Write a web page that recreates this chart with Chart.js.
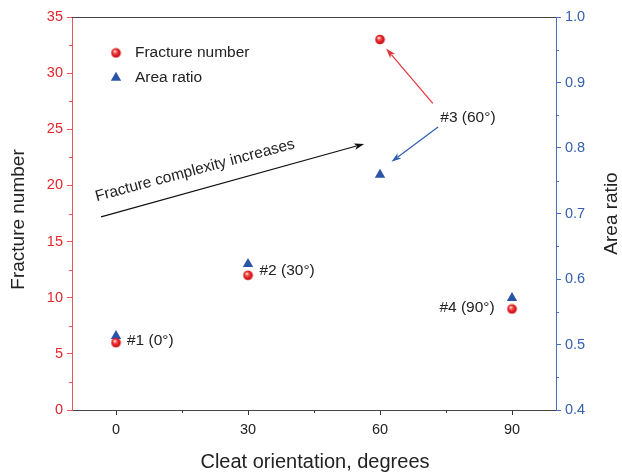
<!DOCTYPE html>
<html>
<head>
<meta charset="utf-8">
<script src="https://cdn.jsdelivr.net/npm/chart.js@4"></script>
<style>
  html, body { margin: 0; padding: 0; background: #fff; }
  #wrap { width: 622px; height: 475px; }
</style>
</head>
<body>
<div id="wrap"><canvas id="chart" width="622" height="475"></canvas></div>
<script>
const cleat = [0, 30, 60, 90];
const fractureNumber = [6, 12, 33, 9];
const areaRatio = [0.513, 0.623, 0.759, 0.571];
const sampleLabels = ["#1 (0°)", "#2 (30°)", "#3 (60°)", "#4 (90°)"];
const xTicks = [0, 30, 60, 90];

const FONT = "'Liberation Sans', Arial, sans-serif";
const RED = "#e4262b";
const RED_AXIS = "#e85555";
const BLUE = "#2a55a6";
const BLUE_AXIS = "#4a6fb8";

// shaded red ball used as point style
function makeBall() {
  const c = document.createElement("canvas");
  c.width = 11; c.height = 11;
  const g = c.getContext("2d");
  const grad = g.createRadialGradient(4.2, 3.8, 0.3, 5.5, 5.5, 5.5);
  grad.addColorStop(0, "#ffffff");
  grad.addColorStop(0.25, "#f26060");
  grad.addColorStop(0.6, "#e2191e");
  grad.addColorStop(1, "#b50e12");
  g.fillStyle = grad;
  g.beginPath();
  g.arc(5.5, 5.5, 4.8, 0, Math.PI * 2);
  g.fill();
  return c;
}
const ball = makeBall();

function arrow(ctx, x1, y1, x2, y2, color) {
  const a = Math.atan2(y2 - y1, x2 - x1);
  const len = 10, w = 3.2;
  ctx.save();
  ctx.strokeStyle = color;
  ctx.fillStyle = color;
  ctx.lineWidth = 1.2;
  ctx.beginPath();
  ctx.moveTo(x1, y1);
  ctx.lineTo(x2 - Math.cos(a) * len * 0.8, y2 - Math.sin(a) * len * 0.8);
  ctx.stroke();
  ctx.translate(x2, y2);
  ctx.rotate(a);
  ctx.beginPath();
  ctx.moveTo(0, 0);
  ctx.lineTo(-len, -w);
  ctx.lineTo(-len * 0.75, 0);
  ctx.lineTo(-len, w);
  ctx.closePath();
  ctx.fill();
  ctx.restore();
}

const decor = {
  id: "decor",
  afterDraw(chart) {
    const { ctx, chartArea: area, scales } = chart;
    const x = scales.x, y = scales.y, y1 = scales.y1;

    // top frame line
    ctx.save();
    ctx.strokeStyle = "#444";
    ctx.lineWidth = 1;
    ctx.beginPath();
    ctx.moveTo(area.left, area.top + 0.5);
    ctx.lineTo(area.right, area.top + 0.5);
    ctx.stroke();

    // minor ticks
    ctx.strokeStyle = "#333";
    [15, 45, 75].forEach(v => {
      const px = Math.round(x.getPixelForValue(v)) + 0.5;
      ctx.beginPath(); ctx.moveTo(px, area.bottom); ctx.lineTo(px, area.bottom + 3); ctx.stroke();
    });
    ctx.strokeStyle = RED_AXIS;
    for (let v = 2.5; v < 35; v += 5) {
      const py = Math.round(y.getPixelForValue(v)) + 0.5;
      ctx.beginPath(); ctx.moveTo(area.left, py); ctx.lineTo(area.left - 3, py); ctx.stroke();
    }
    ctx.strokeStyle = BLUE_AXIS;
    for (let v = 0.45; v < 1.0; v += 0.1) {
      const py = Math.round(y1.getPixelForValue(v)) + 0.5;
      ctx.beginPath(); ctx.moveTo(area.right, py); ctx.lineTo(area.right + 3, py); ctx.stroke();
    }

    // legend
    const P = Chart.helpers.drawPoint;
    P(ctx, { pointStyle: ball, radius: 5 }, x.getPixelForValue(0), y.getPixelForValue(31.8));
    ctx.fillStyle = BLUE;
    P(ctx, { pointStyle: "triangle", radius: 6, rotation: 0, borderWidth: 0 },
      x.getPixelForValue(0), y.getPixelForValue(29.6));
    ctx.fillStyle = "#222";
    ctx.font = "15.5px " + FONT;
    ctx.textBaseline = "middle";
    ctx.textAlign = "left";
    ctx.fillText("Fracture number", x.getPixelForValue(4.3), y.getPixelForValue(31.8));
    ctx.fillText("Area ratio", x.getPixelForValue(4.3), y.getPixelForValue(29.6));

    // point labels
    ctx.fillText(sampleLabels[0], x.getPixelForValue(2.5), y.getPixelForValue(6.2));
    ctx.fillText(sampleLabels[1], x.getPixelForValue(32.6), y.getPixelForValue(12.4));
    ctx.fillText(sampleLabels[2], x.getPixelForValue(73.7), y.getPixelForValue(26.0));
    ctx.fillText(sampleLabels[3], x.getPixelForValue(73.5), y.getPixelForValue(9.1));

    // arrows
    const ax1 = x.getPixelForValue(-3.4), ay1 = y.getPixelForValue(17.2);
    const ax2 = x.getPixelForValue(56.4), ay2 = y.getPixelForValue(23.7);
    arrow(ctx, ax1, ay1, ax2, ay2, "#111");
    arrow(ctx, x.getPixelForValue(72), y.getPixelForValue(27.3),
      x.getPixelForValue(61.4), y.getPixelForValue(32.2), "#e8333a");
    arrow(ctx, x.getPixelForValue(73.2), y.getPixelForValue(25.2),
      x.getPixelForValue(62.6), y.getPixelForValue(22.1), "#2f5db0");

    // rotated arrow caption
    const ang = Math.atan2(ay2 - ay1, ax2 - ax1) + 0.01;
    ctx.save();
    ctx.translate(x.getPixelForValue(-4.4), y.getPixelForValue(18.6));
    ctx.rotate(ang);
    ctx.textBaseline = "alphabetic";
    ctx.font = "15.5px " + FONT;
    ctx.fillText("Fracture complexity increases", 0, 0);
    ctx.restore();

    // axis titles
    ctx.fillStyle = "#222";
    ctx.font = "20px " + FONT;
    ctx.textAlign = "center";
    ctx.textBaseline = "middle";
    ctx.fillText("Cleat orientation, degrees", (area.left + area.right) / 2 + 1, 462);
    const midY = (area.top + area.bottom) / 2;
    ctx.font = "19px " + FONT;
    ctx.save();
    ctx.translate(19, midY + 6);
    ctx.rotate(-Math.PI / 2);
    ctx.fillText("Fracture number", 0, 0);
    ctx.restore();
    ctx.save();
    ctx.translate(612, midY);
    ctx.rotate(-Math.PI / 2);
    ctx.fillText("Area ratio", 0, 0);
    ctx.restore();
    ctx.restore();
  }
};

new Chart(document.getElementById("chart"), {
  type: "scatter",
  data: {
    datasets: [
      {
        label: "Fracture number",
        data: cleat.map((c, i) => ({ x: c, y: fractureNumber[i] })),
        yAxisID: "y",
        pointStyle: ball,
        pointRadius: 5
      },
      {
        label: "Area ratio",
        data: cleat.map((c, i) => ({ x: c, y: areaRatio[i] })),
        yAxisID: "y1",
        pointStyle: "triangle",
        pointRadius: 6,
        backgroundColor: BLUE,
        borderWidth: 0
      }
    ]
  },
  options: {
    responsive: false,
    animation: false,
    layout: { padding: { top: 17, left: 0, right: 0, bottom: 0 } },
    plugins: { legend: { display: false }, tooltip: { enabled: false } },
    scales: {
      x: {
        type: "linear",
        min: -10,
        max: 100,
        afterBuildTicks: s => { s.ticks = xTicks.map(v => ({ value: v })); },
        afterFit: s => { s.height = 65; },
        grid: { drawOnChartArea: false, tickLength: 5, color: "#333" },
        border: { color: "#444", width: 1 },
        ticks: { color: "#222", font: { size: 14.5, family: FONT }, padding: 6 }
      },
      y: {
        position: "left",
        min: 0,
        max: 35,
        afterFit: s => { s.width = 72; },
        grid: { drawOnChartArea: false, tickLength: 5, color: RED_AXIS },
        border: { color: RED_AXIS, width: 1 },
        ticks: { stepSize: 5, color: RED, font: { size: 14.5, family: FONT }, padding: 4 }
      },
      y1: {
        position: "right",
        min: 0.4,
        max: 1.0,
        afterFit: s => { s.width = 66; },
        grid: { drawOnChartArea: false, tickLength: 5, color: BLUE_AXIS },
        border: { color: BLUE_AXIS, width: 1 },
        ticks: {
          stepSize: 0.1, color: "#3560b0", font: { size: 14.5, family: FONT }, padding: 4,
          callback: v => v.toFixed(1)
        }
      }
    }
  },
  plugins: [decor]
});
</script>
</body>
</html>
